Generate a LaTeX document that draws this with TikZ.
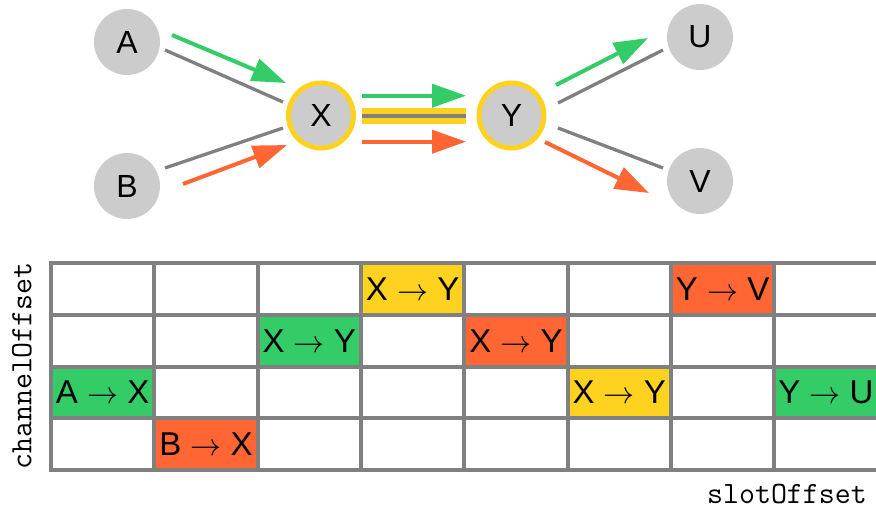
\documentclass[tikz,border=0pt]{standalone}
\usepackage{fontspec}
\setmainfont{Liberation Sans}
\usetikzlibrary{arrows.meta}
\definecolor{cgreen}{HTML}{33CC66}
\definecolor{corange}{HTML}{FF6633}
\definecolor{cyellow}{HTML}{FFD21F}
\definecolor{cgray}{HTML}{808080}
\definecolor{cnode}{HTML}{CCCCCC}
\newcommand{\arr}{\scalebox{3.1}{\fontsize{10}{12}\selectfont$\rightarrow$}}
\begin{document}
\begin{tikzpicture}[x=1pt,y=-1pt,
  vtx/.style={circle, fill=cnode, minimum size=66pt, inner sep=0pt, font=\fontsize{32}{32}\selectfont},
  hub/.style={vtx, draw=cyellow, line width=5pt, minimum size=65pt},
  link/.style={draw=cgray, line width=3.3pt},
  flow/.style={line width=4pt, -{Triangle[length=34pt,width=23pt]}},
  cell/.style={minimum width=103.33pt, minimum height=51.67pt, inner sep=0pt, font=\fontsize{33}{33}\selectfont},
  gridline/.style={draw=cgray, line width=4pt},
  axislabel/.style={font=\fontsize{31}{31}\ttfamily, inner sep=0pt}
]
\useasboundingbox (0,0) rectangle (876,511);

% vertices
\node[vtx] (A) at (127,42) {A};
\node[vtx] (B) at (127,186) {B};
\node[hub] (X) at (321,115.5) {X};
\node[hub] (Y) at (511.5,115.5) {Y};
\node[vtx] (U) at (700,37) {U};
\node[vtx] (V) at (700,181) {V};

% link end points
\coordinate (ax1) at (165,50);   \coordinate (ax2) at (283,102);
\coordinate (bx1) at (165,168);  \coordinate (bx2) at (283,128);
\coordinate (xy1) at (362,116);  \coordinate (xy2) at (466,116);
\coordinate (yu1) at (558,103);  \coordinate (yu2) at (663,50);
\coordinate (yv1) at (558,128);  \coordinate (yv2) at (663,168);

% flow end points
\coordinate (fa1) at (172,35);    \coordinate (fa2) at (286,83);
\coordinate (fb1) at (183,184);   \coordinate (fb2) at (287,145);
\coordinate (fg1) at (362,95.7);  \coordinate (fg2) at (466,95.7);
\coordinate (fo1) at (362,141.7); \coordinate (fo2) at (466,141.7);
\coordinate (fu1) at (556,85);    \coordinate (fu2) at (648,38);
\coordinate (fv1) at (545,142);   \coordinate (fv2) at (649,193);

% links
\draw[link] (ax1) -- (ax2);
\draw[link] (bx1) -- (bx2);
\draw[draw=cyellow, line width=16pt] (xy1) -- (xy2);
\draw[link] (xy1) -- (xy2);
\draw[link] (yu1) -- (yu2);
\draw[link] (yv1) -- (yv2);

% flows
\draw[flow, cgreen] (fa1) -- (fa2);
\draw[flow, corange] (fb1) -- (fb2);
\draw[flow, cgreen] (fg1) -- (fg2);
\draw[flow, corange] (fo1) -- (fo2);
\draw[flow, cgreen] (fu1) -- (fu2);
\draw[flow, corange] (fv1) -- (fv2);

% schedule cells (col, row)
\newcommand{\cx}[1]{51+103.33*(#1+0.5)}
\newcommand{\cy}[1]{263.3+51.67*(#1+0.5)}
\node[cell, fill=cyellow] (c30) at ({\cx{3}},{\cy{0}}) {X \arr{} Y};
\node[cell, fill=corange] (c60) at ({\cx{6}},{\cy{0}}) {Y \arr{} V};
\node[cell, fill=cgreen]  (c21) at ({\cx{2}},{\cy{1}}) {X \arr{} Y};
\node[cell, fill=corange] (c41) at ({\cx{4}},{\cy{1}}) {X \arr{} Y};
\node[cell, fill=cgreen]  (c02) at ({\cx{0}},{\cy{2}}) {A \arr{} X};
\node[cell, fill=cyellow] (c52) at ({\cx{5}},{\cy{2}}) {X \arr{} Y};
\node[cell, fill=cgreen]  (c72) at ({\cx{7}},{\cy{2}}) {Y \arr{} U};
\node[cell, fill=corange] (c13) at ({\cx{1}},{\cy{3}}) {B \arr{} X};

% grid
\foreach \i in {0,...,8} {
  \draw[gridline, line cap=rect] ({51+103.33*\i},263.3) -- ++(0,206.7);
}
\foreach \j in {0,...,4} {
  \draw[gridline, line cap=rect] (51,{263.3+51.67*\j}) -- ++(826.6,0);
}

% axis labels
\node[axislabel, rotate=90] (ylab) at (22,366) {channelOffset};
\node[axislabel, anchor=base east] (xlab) at (867,503) {slotOffset};
\end{tikzpicture}
\end{document}
